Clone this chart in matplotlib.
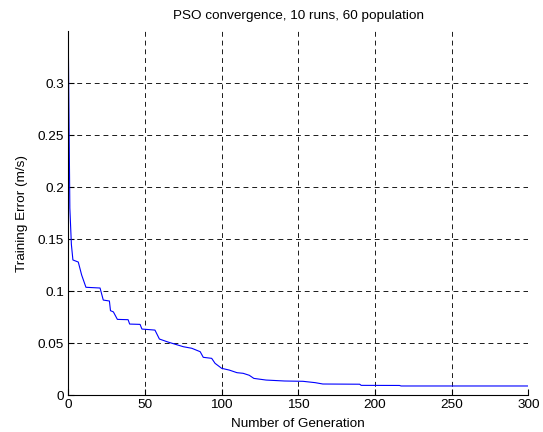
import matplotlib
matplotlib.use("Agg")
import matplotlib.pyplot as plt

plt.rcParams['font.family'] = ['Liberation Sans', 'DejaVu Sans']

# Convergence curve (generation, training error)
generations = [0, 1, 2, 3, 6.5, 8.7, 11.5, 20.7, 22.8, 26.8, 27.5, 29.4, 32, 39, 40,
               46.8, 48, 56.5, 59.4, 65, 75, 80.5, 86, 88, 93.5, 95.7, 100, 105,
               110, 114, 118, 121, 129, 141, 153, 161, 166, 190, 191, 216, 217, 300]
errors = [0.340, 0.180, 0.145, 0.130, 0.128, 0.1155, 0.1037, 0.103, 0.0914, 0.0905,
          0.0812, 0.0800, 0.0728, 0.0725, 0.0683, 0.0680, 0.0635, 0.0625, 0.0539,
          0.0510, 0.0465, 0.0450, 0.0417, 0.0363, 0.0353, 0.0305, 0.0257, 0.0240,
          0.0215, 0.0209, 0.0190, 0.0160, 0.0144, 0.0135, 0.0132, 0.0119, 0.0106,
          0.0104, 0.0093, 0.0092, 0.0087, 0.0087]

xticks = [0, 50, 100, 150, 200, 250, 300]
yticks = [0, 0.05, 0.1, 0.15, 0.2, 0.25, 0.3]
ytick_labels = ["0", "0.05", "0.1", "0.15", "0.2", "0.25", "0.3"]

fs = 9.7

fig = plt.figure(figsize=(5.43, 4.32), dpi=100)
ax = fig.add_axes([0.1258, 0.0856, 0.8472, 0.8417])

ax.plot(generations, errors, color=(0, 0, 1), linewidth=0.8)

ax.set_xlim(0, 300)
ax.set_ylim(0, 0.35)
ax.set_xticks(xticks)
ax.set_yticks(yticks)
ax.set_yticklabels(ytick_labels)

ax.grid(True, color='0.1', linestyle=(0, (5, 4)), linewidth=0.7)
for s in ['top', 'right']:
    ax.spines[s].set_visible(False)
for s in ['left', 'bottom']:
    ax.spines[s].set_linewidth(0.8)
ax.tick_params(direction='in', length=4, width=0.8, labelsize=fs, pad=3)

ax.set_title("PSO convergence, 10 runs, 60 population", fontsize=fs, pad=9)
ax.set_xlabel("Number of Generation", fontsize=fs, labelpad=5)
ax.set_ylabel("Training Error (m/s)", fontsize=fs, labelpad=7)

fig.savefig("out.png", dpi=100)
